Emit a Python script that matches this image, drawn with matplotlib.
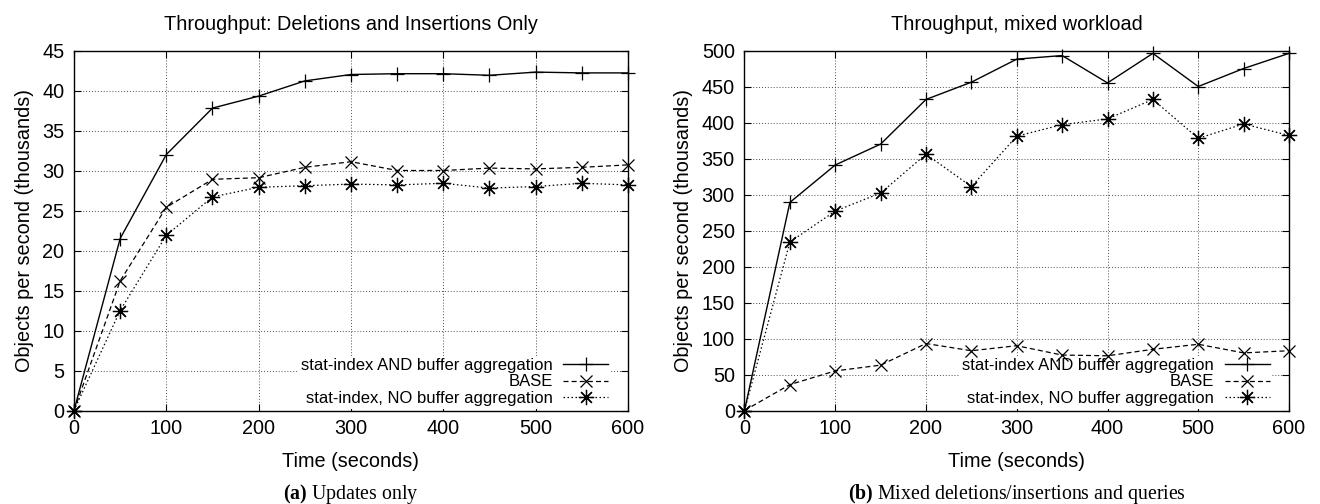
import numpy as np
import matplotlib
matplotlib.use("Agg")
import matplotlib.pyplot as plt

plt.rcParams['font.family'] = ['Liberation Sans', 'DejaVu Sans']
plt.rcParams['mathtext.fontset'] = 'custom'
plt.rcParams['mathtext.rm'] = 'Liberation Serif'
plt.rcParams['mathtext.bf'] = 'Liberation Serif:bold'

# time axis (seconds)
time_s = [0, 50, 100, 150, 200, 250, 300, 350, 400, 450, 500, 550, 600]

# (a) updates only, objects per second in thousands
upd_stat_buf = [0, 21.5, 32.0, 37.8, 39.3, 41.2, 42.0, 42.1, 42.1, 41.9, 42.3, 42.2, 42.2]
upd_base = [0, 16.2, 25.4, 28.9, 29.1, 30.4, 31.1, 30.0, 30.0, 30.3, 30.2, 30.4, 30.7]
upd_stat_nobuf = [0, 12.5, 21.9, 26.7, 27.9, 28.1, 28.3, 28.2, 28.4, 27.8, 28.0, 28.4, 28.2]

# (b) mixed workload
mix_stat_buf = [0, 289, 341, 370, 432, 456, 488, 493, 455, 496, 450, 475, 496]
mix_base = [0, 36, 55, 63, 93, 83, 90, 77, 76, 85, 92, 80, 83]
mix_stat_nobuf = [0, 234, 277, 302, 356, 311, 381, 397, 405, 432, 378, 398, 382]

labels = ["stat-index AND buffer aggregation", "BASE",
          "stat-index, NO buffer aggregation"]

asterisk = (8, 2, 0)
AX_H = 360  # axes height in pixels


def draw_panel(ax, width_px, buf, base, nobuf, ymax, ystep, title):
    ax.plot(time_s, buf, color='black', lw=1.0, ls='-', marker='+',
            ms=10, mew=0.9, clip_on=False, label=labels[0])
    ax.plot(time_s, base, color='black', lw=0.9, ls=(0, (4, 2.5)), marker='x',
            ms=8, mew=0.9, clip_on=False, label=labels[1])
    ax.plot(time_s, nobuf, color='black', lw=0.9, ls=(0, (1.2, 2)), marker=asterisk,
            ms=11, mew=0.9, clip_on=False, label=labels[2])
    ax.set_xlim(0, 600)
    ax.set_ylim(0, ymax)
    ax.set_xticks(np.arange(0, 601, 100))
    ax.set_yticks(np.arange(0, ymax + 1, ystep))
    ax.set_axisbelow(True)
    ax.grid(True, color='0.3', ls=(0, (1, 2)), lw=0.7)
    ax.tick_params(direction='in', top=True, right=True, length=5, width=0.8,
                   labelsize=14.3)
    ax.tick_params(axis='x', pad=6)
    ax.tick_params(axis='y', pad=7)
    for sp in ax.spines.values():
        sp.set_linewidth(1.0)
    ax.set_title(title, fontsize=14.3, pad=15)
    ax.set_xlabel("Time (seconds)", fontsize=14.3, labelpad=10)
    ax.set_ylabel("Objects per second (thousands)", fontsize=14.3, labelpad=6)
    # key sits in the lower right corner, on a white box over the grid
    leg = ax.legend(loc='lower right', bbox_to_anchor=(1 - 17 / width_px, 2 / AX_H),
                    markerfirst=False, fontsize=12,
                    handlelength=2.7, handletextpad=0.65, labelspacing=0.09,
                    borderpad=0.15, borderaxespad=0, fancybox=False,
                    framealpha=1.0, facecolor='white', edgecolor='none')
    leg.set_zorder(1.5)


fig = plt.figure(figsize=(13.2, 5.04), dpi=100)
ax1 = fig.add_axes([74 / 1320, 93.5 / 504, 554 / 1320, AX_H / 504])
ax2 = fig.add_axes([744.5 / 1320, 93.5 / 504, 544.5 / 1320, AX_H / 504])

draw_panel(ax1, 554, upd_stat_buf, upd_base, upd_stat_nobuf, 45, 5,
           "Throughput: Deletions and Insertions Only")
draw_panel(ax2, 544.5, mix_stat_buf, mix_base, mix_stat_nobuf, 500, 50,
           "Throughput, mixed workload")

fig.text(351 / 1320, 0.02, r"$\mathbf{(a)}$ Updates only",
         family='Liberation Serif', fontsize=14.3, ha='center', va='center')
fig.text(1017 / 1320, 0.02, r"$\mathbf{(b)}$ Mixed deletions/insertions and queries",
         family='Liberation Serif', fontsize=14.3, ha='center', va='center')

fig.savefig("out.png", dpi=100)
